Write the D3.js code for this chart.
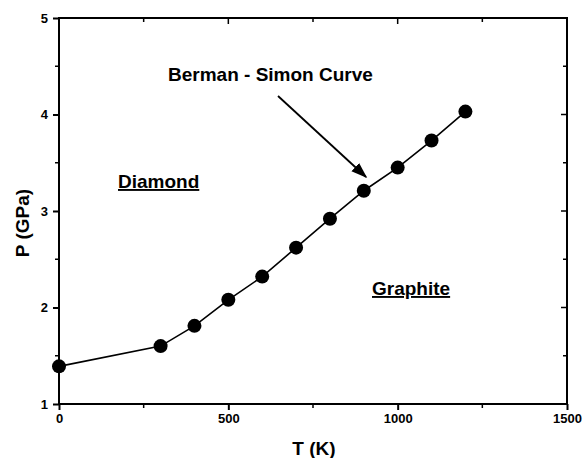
<!DOCTYPE html>
<html>
<head>
<meta charset="utf-8">
<script src="https://cdn.jsdelivr.net/npm/d3@7"></script>
<style>
body { margin: 0; background: #fff; }
svg { font-family: "Liberation Sans", Arial, sans-serif; }
.tick text { font-weight: bold; font-size: 13px; }
.label { font-weight: bold; font-size: 19px; }
</style>
</head>
<body>
<svg id="chart" width="585" height="458"></svg>
<script>
// Berman - Simon curve points
var temps = [0, 300, 400, 500, 600, 700, 800, 900, 1000, 1100, 1200];
var pressures = [1.39, 1.6, 1.81, 2.08, 2.32, 2.62, 2.92, 3.21, 3.45, 3.73, 4.03];
var xTicks = [0, 500, 1000, 1500];
var yTicks = [1, 2, 3, 4, 5];
var xMinor = [250, 750, 1250];
var yMinor = [1.5, 2.5, 3.5, 4.5];

var svg = d3.select('#chart');
var plotLeft = 59, plotRight = 567, plotTop = 18, plotBottom = 404;

var x = d3.scaleLinear().domain([0, 1500]).range([plotLeft, plotRight]);
var y = d3.scaleLinear().domain([1, 5]).range([plotBottom, plotTop]);

// frame
svg.append('rect')
    .attr('x', plotLeft).attr('y', plotTop)
    .attr('width', plotRight - plotLeft).attr('height', plotBottom - plotTop)
    .attr('fill', 'none').attr('stroke', '#000').attr('stroke-width', 2);

var xAxis = svg.append('g')
    .attr('transform', 'translate(0,' + plotBottom + ')')
    .call(d3.axisBottom(x).tickValues(xTicks).tickSize(6).tickPadding(4).tickFormat(d3.format('d')));
var yAxis = svg.append('g')
    .attr('transform', 'translate(' + plotLeft + ',0)')
    .call(d3.axisLeft(y).tickValues(yTicks).tickSize(6).tickPadding(5).tickFormat(d3.format('d')));
[xAxis, yAxis].forEach(function (a) {
    a.select('.domain').remove();
    a.selectAll('.tick line').attr('stroke-width', 2);
});

// minor ticks
svg.append('g').selectAll('line').data(xMinor).enter().append('line')
    .attr('x1', function (d) { return x(d); }).attr('x2', function (d) { return x(d); })
    .attr('y1', plotBottom).attr('y2', plotBottom + 4)
    .attr('stroke', '#000').attr('stroke-width', 1.5);
svg.append('g').selectAll('line').data(yMinor).enter().append('line')
    .attr('x1', plotLeft - 4).attr('x2', plotLeft)
    .attr('y1', function (d) { return y(d); }).attr('y2', function (d) { return y(d); })
    .attr('stroke', '#000').attr('stroke-width', 1.5);

// mirrored ticks on top and right, pointing in
svg.append('g').selectAll('line').data(xTicks.concat(xMinor)).enter().append('line')
    .attr('x1', function (d) { return x(d); }).attr('x2', function (d) { return x(d); })
    .attr('y1', plotTop).attr('y2', function (d) { return plotTop + (xTicks.indexOf(d) > -1 ? 6 : 4); })
    .attr('stroke', '#000').attr('stroke-width', 1.5);
svg.append('g').selectAll('line').data(yTicks.concat(yMinor)).enter().append('line')
    .attr('x1', function (d) { return plotRight - (yTicks.indexOf(d) > -1 ? 6 : 4); }).attr('x2', plotRight)
    .attr('y1', function (d) { return y(d); }).attr('y2', function (d) { return y(d); })
    .attr('stroke', '#000').attr('stroke-width', 1.5);

// axis titles
svg.append('text').attr('class', 'label')
    .attr('x', 314).attr('y', 455)
    .attr('text-anchor', 'middle')
    .text('T (K)');
svg.append('text').attr('class', 'label')
    .attr('transform', 'translate(29,223) rotate(-90)')
    .attr('text-anchor', 'middle')
    .text('P (GPa)');

// curve
var pts = temps.map(function (t, i) { return [t, pressures[i]]; });
var line = d3.line()
    .x(function (d) { return x(d[0]); })
    .y(function (d) { return y(d[1]); });
svg.append('path')
    .attr('d', line(pts))
    .attr('fill', 'none').attr('stroke', '#000').attr('stroke-width', 1.6);
svg.append('g').selectAll('circle').data(pts).enter().append('circle')
    .attr('cx', function (d) { return x(d[0]); })
    .attr('cy', function (d) { return y(d[1]); })
    .attr('r', 7).attr('fill', '#000');

// annotations
svg.append('defs').append('marker')
    .attr('id', 'arrow').attr('viewBox', '0 0 10 10')
    .attr('refX', 9).attr('refY', 5)
    .attr('markerWidth', 9).attr('markerHeight', 9)
    .attr('orient', 'auto')
    .append('path').attr('d', 'M0,1.5 L10,5 L0,8.5 Z').attr('fill', '#000');
svg.append('line')
    .attr('x1', 278).attr('y1', 96).attr('x2', 366).attr('y2', 177)
    .attr('stroke', '#000').attr('stroke-width', 1.8)
    .attr('marker-end', 'url(#arrow)');

svg.append('text').attr('class', 'label')
    .attr('x', 168).attr('y', 81)
    .text('Berman - Simon Curve');
svg.append('text').attr('class', 'label')
    .attr('x', 118).attr('y', 188)
    .attr('text-decoration', 'underline')
    .text('Diamond');
svg.append('text').attr('class', 'label')
    .attr('x', 372).attr('y', 295)
    .attr('text-decoration', 'underline')
    .text('Graphite');
</script>
</body>
</html>
